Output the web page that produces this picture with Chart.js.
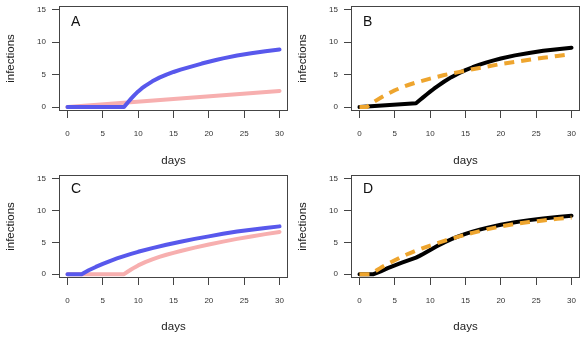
<!DOCTYPE html>
<html>
<head>
<meta charset="utf-8">
<script src="https://cdn.jsdelivr.net/npm/chart.js@4"></script>
<style>
html,body{margin:0;padding:0;background:#fff;}
#wrap{position:relative;width:584px;height:342px;}
.panel{position:absolute;width:292px;height:171px;}
</style>
</head>
<body>
<div id="wrap">
  <div class="panel" style="left:0;top:0"><canvas id="pA" width="292" height="171"></canvas></div>
  <div class="panel" style="left:292px;top:0"><canvas id="pB" width="292" height="171"></canvas></div>
  <div class="panel" style="left:0;top:171px"><canvas id="pC" width="292" height="171"></canvas></div>
  <div class="panel" style="left:292px;top:171px"><canvas id="pD" width="292" height="171"></canvas></div>
</div>
<script>
const xTicks = [0, 5, 10, 15, 20, 25, 30];
const yTicks = [0, 5, 10, 15];

// A
const aBlueDays = [0, 8, 8.5, 9, 9.5, 10, 10.5, 11, 12, 13, 14, 15, 16, 17, 18, 19, 20, 21, 22, 24, 26, 28, 30];
const aBlueVals = [0, 0, 0.68, 1.3, 1.88, 2.42, 2.88, 3.28, 3.98, 4.55, 5.02, 5.42, 5.78, 6.1, 6.4, 6.72, 7.0, 7.27, 7.52, 7.95, 8.3, 8.62, 8.9];
const aPinkDays = [0, 30];
const aPinkVals = [0, 2.5];

// B
const bBlackDays = [0, 8, 8.5, 9, 9.5, 10, 10.5, 11, 12, 13, 14, 15, 16, 17, 18, 19, 20, 22, 24, 26, 28, 30];
const bBlackVals = [0, 0.6, 1.05, 1.5, 1.95, 2.38, 2.8, 3.2, 3.95, 4.62, 5.2, 5.7, 6.15, 6.55, 6.9, 7.22, 7.5, 7.98, 8.36, 8.68, 8.93, 9.15];
const bOrangeDays = [0, 1, 1.5, 2, 2.5, 3, 4, 5, 6, 7, 8, 10, 12, 14, 16, 18, 20, 22, 24, 26, 28, 30];
const bOrangeVals = [0, 0, 0.4, 0.78, 1.12, 1.45, 2.05, 2.6, 3.05, 3.45, 3.8, 4.4, 4.95, 5.4, 5.85, 6.25, 6.65, 6.98, 7.3, 7.6, 7.9, 8.2];

// C
const cBlueDays = [0, 2, 2.5, 3, 4, 5, 6, 7, 8, 9, 10, 12, 14, 16, 18, 20, 22, 24, 26, 28, 30];
const cBlueVals = [0, 0, 0.32, 0.62, 1.14, 1.62, 2.07, 2.47, 2.85, 3.2, 3.52, 4.1, 4.62, 5.1, 5.55, 5.95, 6.35, 6.7, 7.0, 7.27, 7.52];
const cPinkDays = [0, 8, 8.5, 9, 9.5, 10, 11, 12, 13, 14, 15, 16, 18, 20, 22, 24, 26, 28, 30];
const cPinkVals = [0, 0, 0.38, 0.74, 1.07, 1.38, 1.9, 2.33, 2.72, 3.06, 3.36, 3.65, 4.18, 4.67, 5.12, 5.55, 5.93, 6.3, 6.65];

// D
const dBlackDays = [0, 2, 3, 4, 5, 6, 7, 8, 8.5, 9, 9.5, 10, 10.5, 11, 12, 13, 14, 15, 16, 17, 18, 20, 22, 24, 26, 28, 30];
const dBlackVals = [0, 0, 0.45, 0.95, 1.4, 1.8, 2.2, 2.6, 2.88, 3.18, 3.5, 3.82, 4.13, 4.43, 5.0, 5.5, 5.95, 6.35, 6.7, 7.0, 7.28, 7.78, 8.18, 8.5, 8.77, 9.0, 9.2];
const dOrangeDays = [0, 1.5, 2, 2.5, 3, 4, 5, 6, 7, 8, 10, 12, 14, 16, 18, 20, 22, 24, 26, 28, 30];
const dOrangeVals = [0, 0, 0.3, 0.65, 1.0, 1.62, 2.2, 2.75, 3.25, 3.7, 4.5, 5.25, 5.9, 6.5, 7.05, 7.5, 7.9, 8.2, 8.45, 8.7, 8.9];

const BLUE = '#5858ec', PINK = '#f7afaf', ORANGE = '#eea52e', BLACK = '#000000';
const FONT = "'Liberation Sans', Arial, sans-serif";

function pts(xs, ys){ return xs.map((x, i) => ({x: x, y: ys[i]})); }

function line(xs, ys, color, dashed){
  return {
    data: pts(xs, ys), borderColor: color, borderWidth: 4, pointRadius: 0,
    tension: 0, fill: false, borderDash: dashed ? [10, 7] : [],
    borderCapStyle: dashed ? 'butt' : 'round', borderJoinStyle: 'round'
  };
}

// box round the plot area and the panel letter
const frame = {
  id: 'frame',
  afterDraw(chart){
    const a = chart.chartArea, ctx = chart.ctx;
    const opt = chart.options.plugins.frame;
    ctx.save();
    ctx.strokeStyle = '#444';
    ctx.lineWidth = 1;
    ctx.strokeRect(a.left + 0.5, a.top + 0.5, a.right - a.left - 1, a.bottom - a.top - 1);
    ctx.fillStyle = '#111';
    ctx.font = '14px ' + FONT;
    ctx.textBaseline = 'alphabetic';
    ctx.fillText(opt.letter, a.left + 12, a.top + opt.dy);
    ctx.restore();
  }
};

function panel(id, letter, datasets, row){
  const top = row === 0 ? 6 : 4;
  const xh = row === 0 ? 60 : 64;
  const titlePad = row === 0 ? 3 : 8;
  new Chart(document.getElementById(id), {
    type: 'line',
    data: { datasets },
    plugins: [frame],
    options: {
      responsive: false, animation: false, devicePixelRatio: 1,
      layout: { padding: { left: 0, right: 4, top: top, bottom: 0 } },
      plugins: { legend: { display: false }, tooltip: { enabled: false },
                 frame: { letter: letter, dy: row === 0 ? 20 : 18 } },
      scales: {
        x: {
          type: 'linear', min: -1.2, max: 31.2,
          afterBuildTicks: s => { s.ticks = xTicks.map(v => ({value: v})); },
          afterFit: s => { s.height = xh; s.paddingLeft = 0; s.paddingRight = 0; },
          grid: { display: true, drawOnChartArea: false, drawTicks: true, tickLength: 7, color: '#444' },
          border: { display: false },
          ticks: { font: { family: FONT, size: 8 }, color: '#333', padding: 11, maxRotation: 0, autoSkip: false },
          title: { display: true, text: 'days', font: { family: FONT, size: 11.5 }, color: '#222', padding: { top: 0, bottom: titlePad } }
        },
        y: {
          min: -0.6, max: 15.6,
          afterBuildTicks: s => { s.ticks = yTicks.map(v => ({value: v})); },
          afterFit: s => { s.width = 59; s.paddingTop = 0; s.paddingBottom = 0; },
          grid: { display: true, drawOnChartArea: false, drawTicks: true, tickLength: 7, color: '#444' },
          border: { display: false },
          ticks: { font: { family: FONT, size: 8 }, color: '#333', padding: 6 },
          title: { display: true, text: 'infections', font: { family: FONT, size: 11.5 }, color: '#222', padding: { top: 4, bottom: 0 } }
        }
      }
    }
  });
}

panel('pA', 'A', [line(aBlueDays, aBlueVals, BLUE), line(aPinkDays, aPinkVals, PINK)], 0);
panel('pB', 'B', [line(bOrangeDays, bOrangeVals, ORANGE, true), line(bBlackDays, bBlackVals, BLACK)], 0);
panel('pC', 'C', [line(cBlueDays, cBlueVals, BLUE), line(cPinkDays, cPinkVals, PINK)], 1);
panel('pD', 'D', [line(dOrangeDays, dOrangeVals, ORANGE, true), line(dBlackDays, dBlackVals, BLACK)], 1);
</script>
</body>
</html>
